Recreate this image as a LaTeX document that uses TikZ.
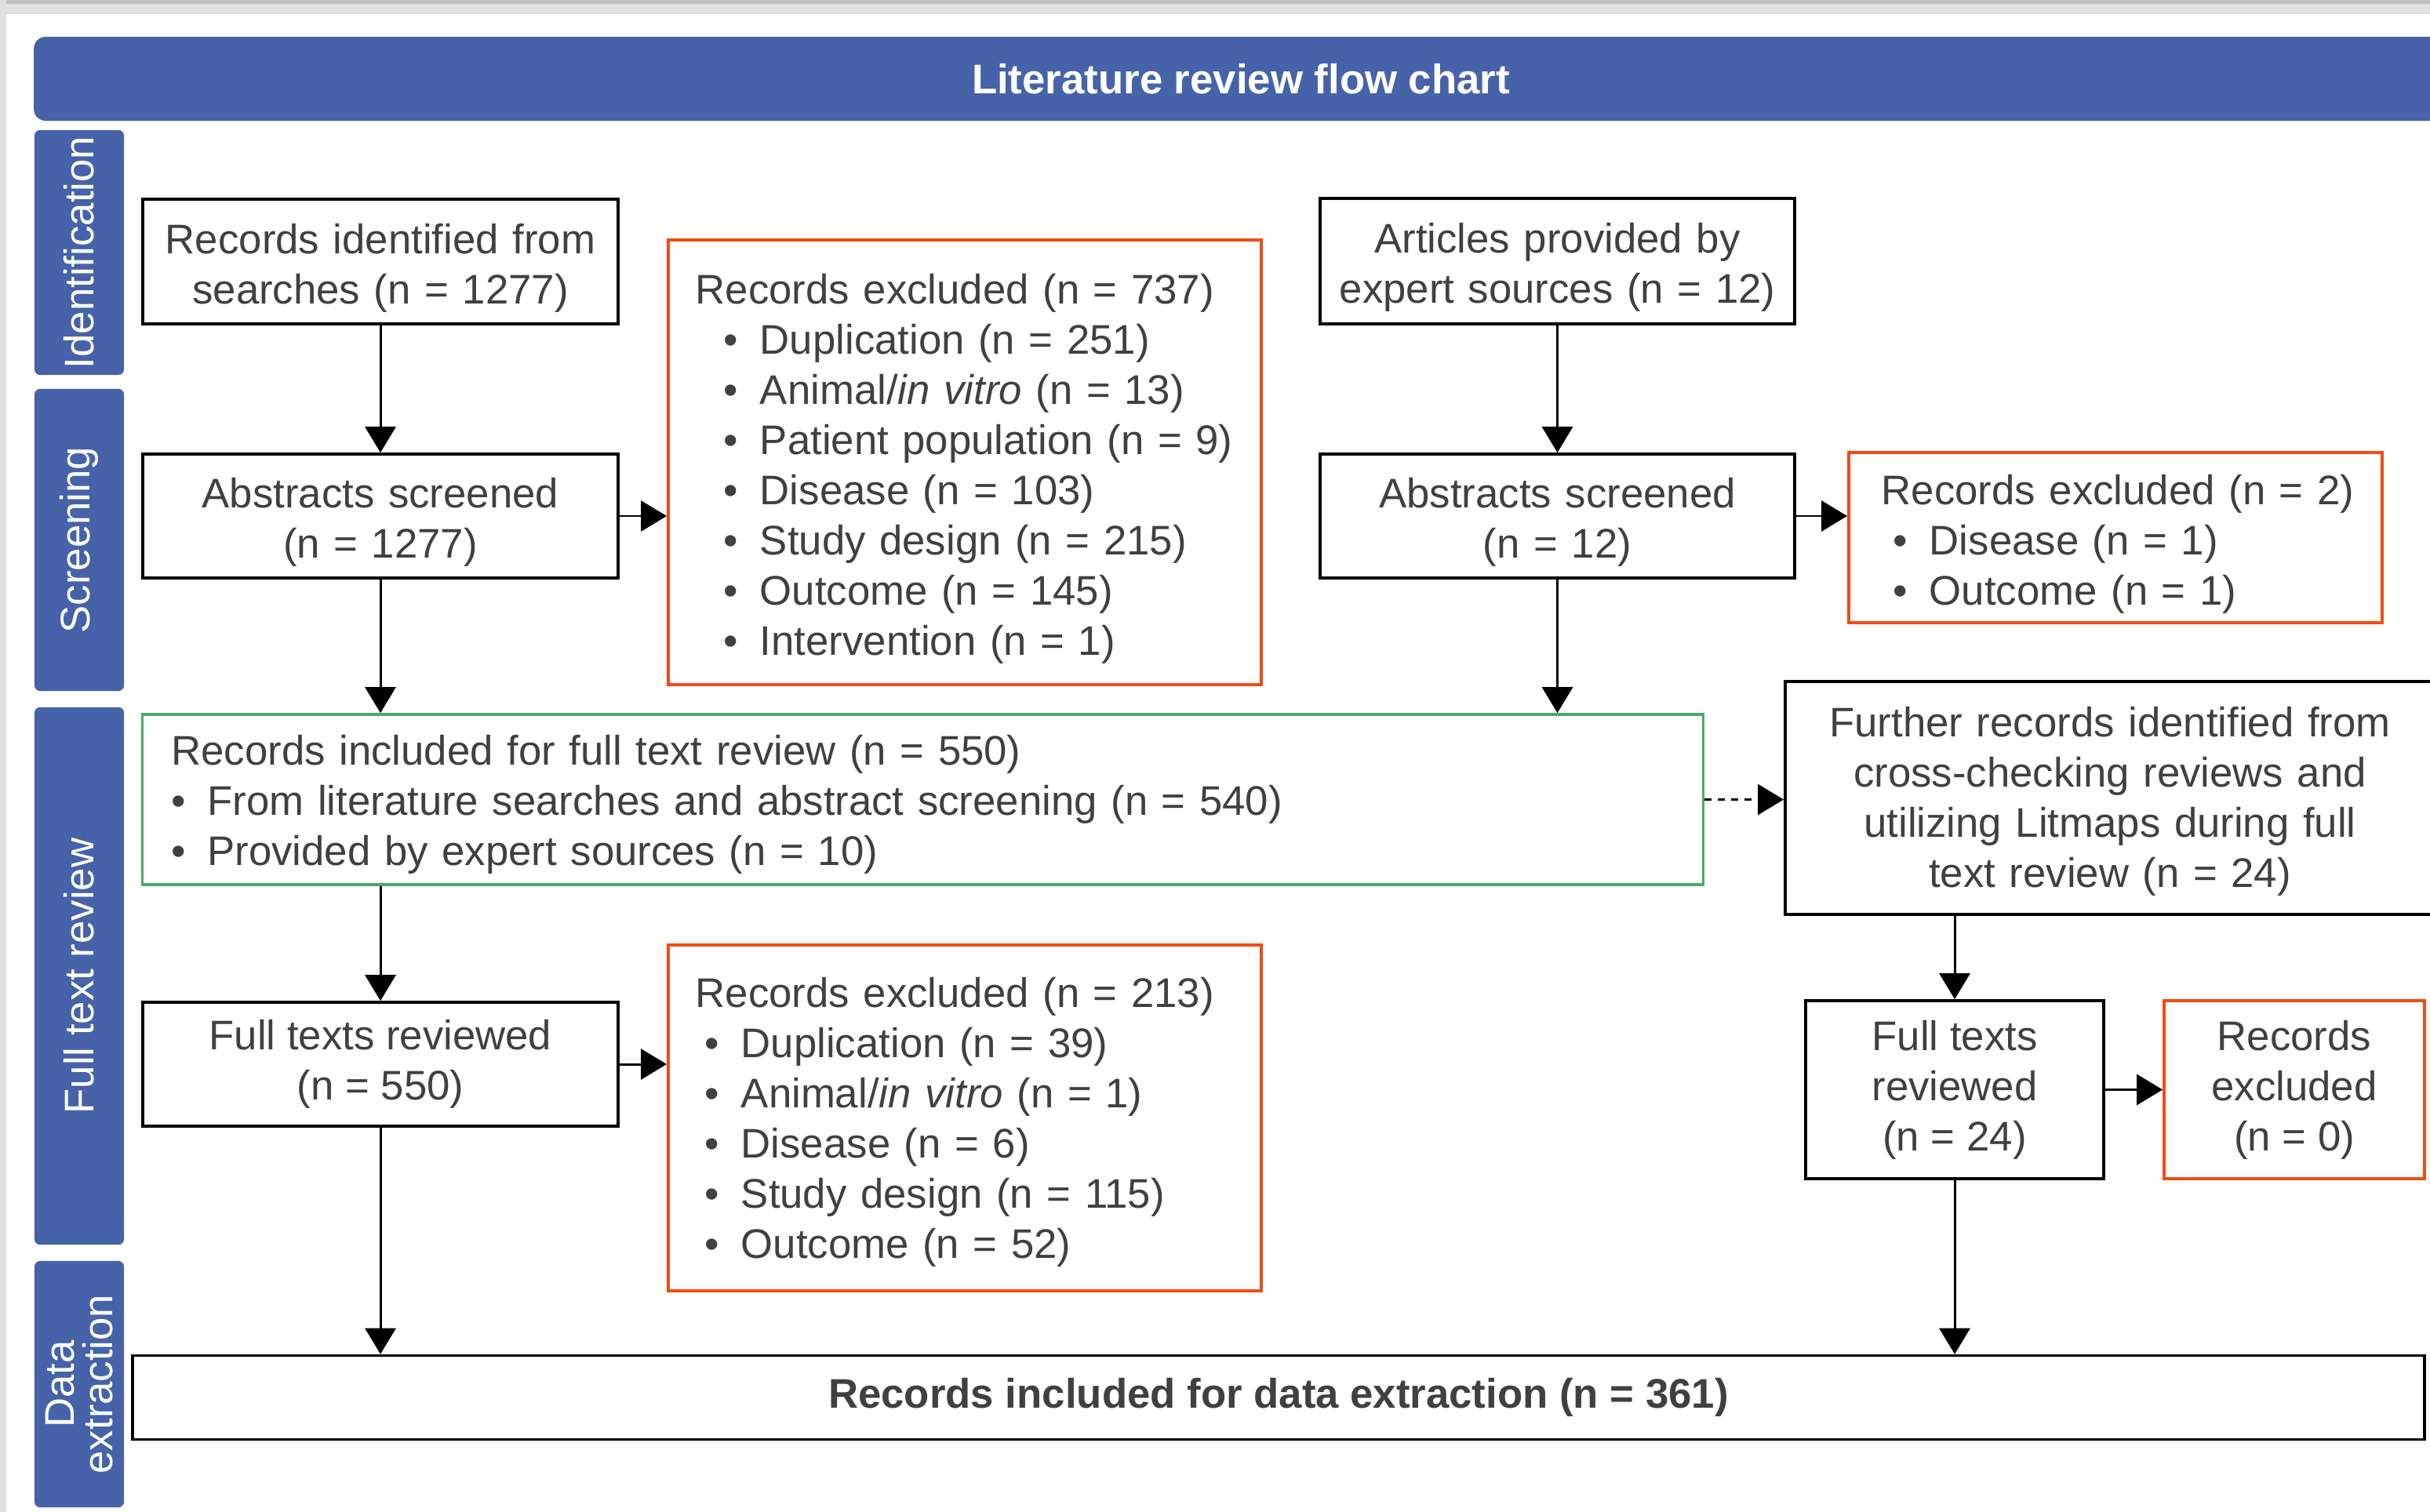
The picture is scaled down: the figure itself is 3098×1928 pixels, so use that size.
\documentclass[tikz,border=0pt]{standalone}
\usepackage{fontspec}
\setmainfont{Liberation Sans}
\usepackage{tikz}
\usetikzlibrary{arrows.meta,positioning,calc}
\definecolor{bandc}{HTML}{4663A9}
\definecolor{exc}{HTML}{F04C14}
\definecolor{okc}{HTML}{4CA865}
\definecolor{txtc}{HTML}{404040}
\definecolor{edgec}{HTML}{C0C0C2}
\definecolor{rimc}{HTML}{E0E0E0}
\newcommand{\fs}{\fontsize{15}{18.2}\selectfont}
\newcommand{\bul}[2]{\hspace*{#1}\makebox[0.46cm][l]{\textbullet}#2}
\tikzset{
  >={Triangle[width=3.9mm,length=3.3mm]},
  box/.style={draw=black,line width=1pt,fill=white,text=txtc,align=center,inner sep=0pt,font=\fs},
  exbox/.style={box,draw=exc,align=left},
  inbox/.style={box,draw=okc,align=left},
  low/.style={text height=#1},
  side/.style={fill=bandc,rounded corners=0.07cm,rotate=90,text=white,align=center,inner sep=0pt,minimum height=1.14cm,font=\fs},
  ptr/.style={->,line width=0.85pt,draw=black},
  ptrdot/.style={ptr,dash pattern=on 0.09cm off 0.08cm},
}

\begin{document}
\begin{tikzpicture}[x=0.01cm,y=-0.01cm]
  \useasboundingbox (0,0) rectangle (3098,1928);
  \fill[rimc] (0,0) rectangle (3098,18);
  \fill[edgec] (0,0) rectangle (3098,5);
  \fill[rimc] (0,0) rectangle (8,1928);
  % banner and phases
  \node[fill=bandc,rounded corners=0.15cm,text=white,font=\fs\bfseries,minimum width=30.76cm,minimum height=1.07cm] (head) at (1582,100.5) {Literature review flow chart};
  \node[side,minimum width=3.12cm] (ph-id) at (101,322) {Identification};
  \node[side,minimum width=3.85cm] (ph-scr) at (101,688.5) {Screening};
  \node[side,minimum width=6.85cm] (ph-full) at (101,1244.5) {Full text review};
  \node[side,minimum width=3.14cm,font=\fontsize{15}{14}\selectfont] (ph-data) at (101,1765) {Data\\extraction};
  % left branch
  \node[box,low=15.4pt,text width=6cm,minimum width=6.06cm,minimum height=1.59cm] (srch) at (485,333.5) {Records identified from\\searches (n = 1277)};
  \node[box,low=15.4pt,text width=6cm,minimum width=6.06cm,minimum height=1.58cm] (absA) at (485,658) {Abstracts screened\\(n = 1277)};
  \node[exbox,low=15.6pt,minimum width=7.56cm,minimum height=5.67cm,text width=6.86cm] (exA) at (1230,589.5) {Records excluded (n = 737)\\
    \bul{0.36cm}{Duplication (n = 251)}\\
    \bul{0.36cm}{Animal/\textit{in vitro} (n = 13)}\\
    \bul{0.36cm}{Patient population (n = 9)}\\
    \bul{0.36cm}{Disease (n = 103)}\\
    \bul{0.36cm}{Study design (n = 215)}\\
    \bul{0.36cm}{Outcome (n = 145)}\\
    \bul{0.36cm}{Intervention (n = 1)}};
  % right branch
  \node[box,low=15.4pt,text width=6cm,minimum width=6.05cm,minimum height=1.60cm] (expert) at (1985.5,333) {Articles provided by\\expert sources (n = 12)};
  \node[box,low=15.4pt,text width=6cm,minimum width=6.05cm,minimum height=1.58cm] (absB) at (1985.5,658) {Abstracts screened\\(n = 12)};
  \node[exbox,low=15.4pt,minimum width=6.80cm,minimum height=2.17cm,text width=6.14cm] (exB) at (2697,685.5) {\hspace*{0.09cm}Records excluded (n = 2)\\
    \bul{0.24cm}{Disease (n = 1)}\\
    \bul{0.24cm}{Outcome (n = 1)}};
  % full text review
  \node[inbox,low=14.3pt,minimum width=19.89cm,minimum height=2.17cm,text width=19.15cm] (incl) at (1176.5,1019.5) {Records included for full text review (n = 550)\\
    \bul{0cm}{From literature searches and abstract screening (n = 540)}\\
    \bul{0cm}{Provided by expert sources (n = 10)}};
  \node[box,low=13.2pt,text width=8.2cm,minimum width=8.28cm,minimum height=2.97cm] (more) at (2690,1017.5) {Further records identified from\\cross-checking reviews and\\utilizing Litmaps during full\\text review (n = 24)};
  \node[box,minimum width=6.06cm,minimum height=1.58cm] (fullA) at (485,1357) {Full texts reviewed\\(n = 550)};
  \node[exbox,low=13.8pt,minimum width=7.56cm,minimum height=4.41cm,text width=6.86cm] (exC) at (1230,1425.5) {Records excluded (n = 213)\\
    \bul{0.12cm}{Duplication (n = 39)}\\
    \bul{0.12cm}{Animal/\textit{in vitro} (n = 1)}\\
    \bul{0.12cm}{Disease (n = 6)}\\
    \bul{0.12cm}{Study design (n = 115)}\\
    \bul{0.12cm}{Outcome (n = 52)}};
  \node[box,minimum width=3.80cm,minimum height=2.27cm] (fullB) at (2492,1389.5) {Full texts\\reviewed\\(n = 24)};
  \node[box,draw=exc,minimum width=3.32cm,minimum height=2.27cm] (exD) at (2925,1389.5) {Records\\excluded\\(n = 0)};
  % data extraction
  \node[box,minimum width=29.20cm,minimum height=1.07cm,font=\fs\bfseries] (final) at (1630,1782) {Records included for data extraction (n = 361)};
  % connectors
  \draw[ptr] (srch) -- (absA);
  \draw[ptr] (absA) -- (absA.east -| exA.west);
  \draw[ptr] (absA) -- (absA |- incl.north);
  \draw[ptr] (expert) -- (absB);
  \draw[ptr] (absB) -- (absB.east -| exB.west);
  \draw[ptr] (absB) -- (absB |- incl.north);
  \draw[ptrdot] (incl) -- (incl.east -| more.west);
  \draw[ptr] (fullA |- incl.south) -- (fullA);
  \draw[ptr] (fullA) -- (fullA.east -| exC.west);
  \draw[ptr] (fullA) -- (fullA |- final.north);
  \draw[ptr] (fullB |- more.south) -- (fullB);
  \draw[ptr] (fullB) -- (exD);
  \draw[ptr] (fullB) -- (fullB |- final.north);
\end{tikzpicture}
\end{document}
